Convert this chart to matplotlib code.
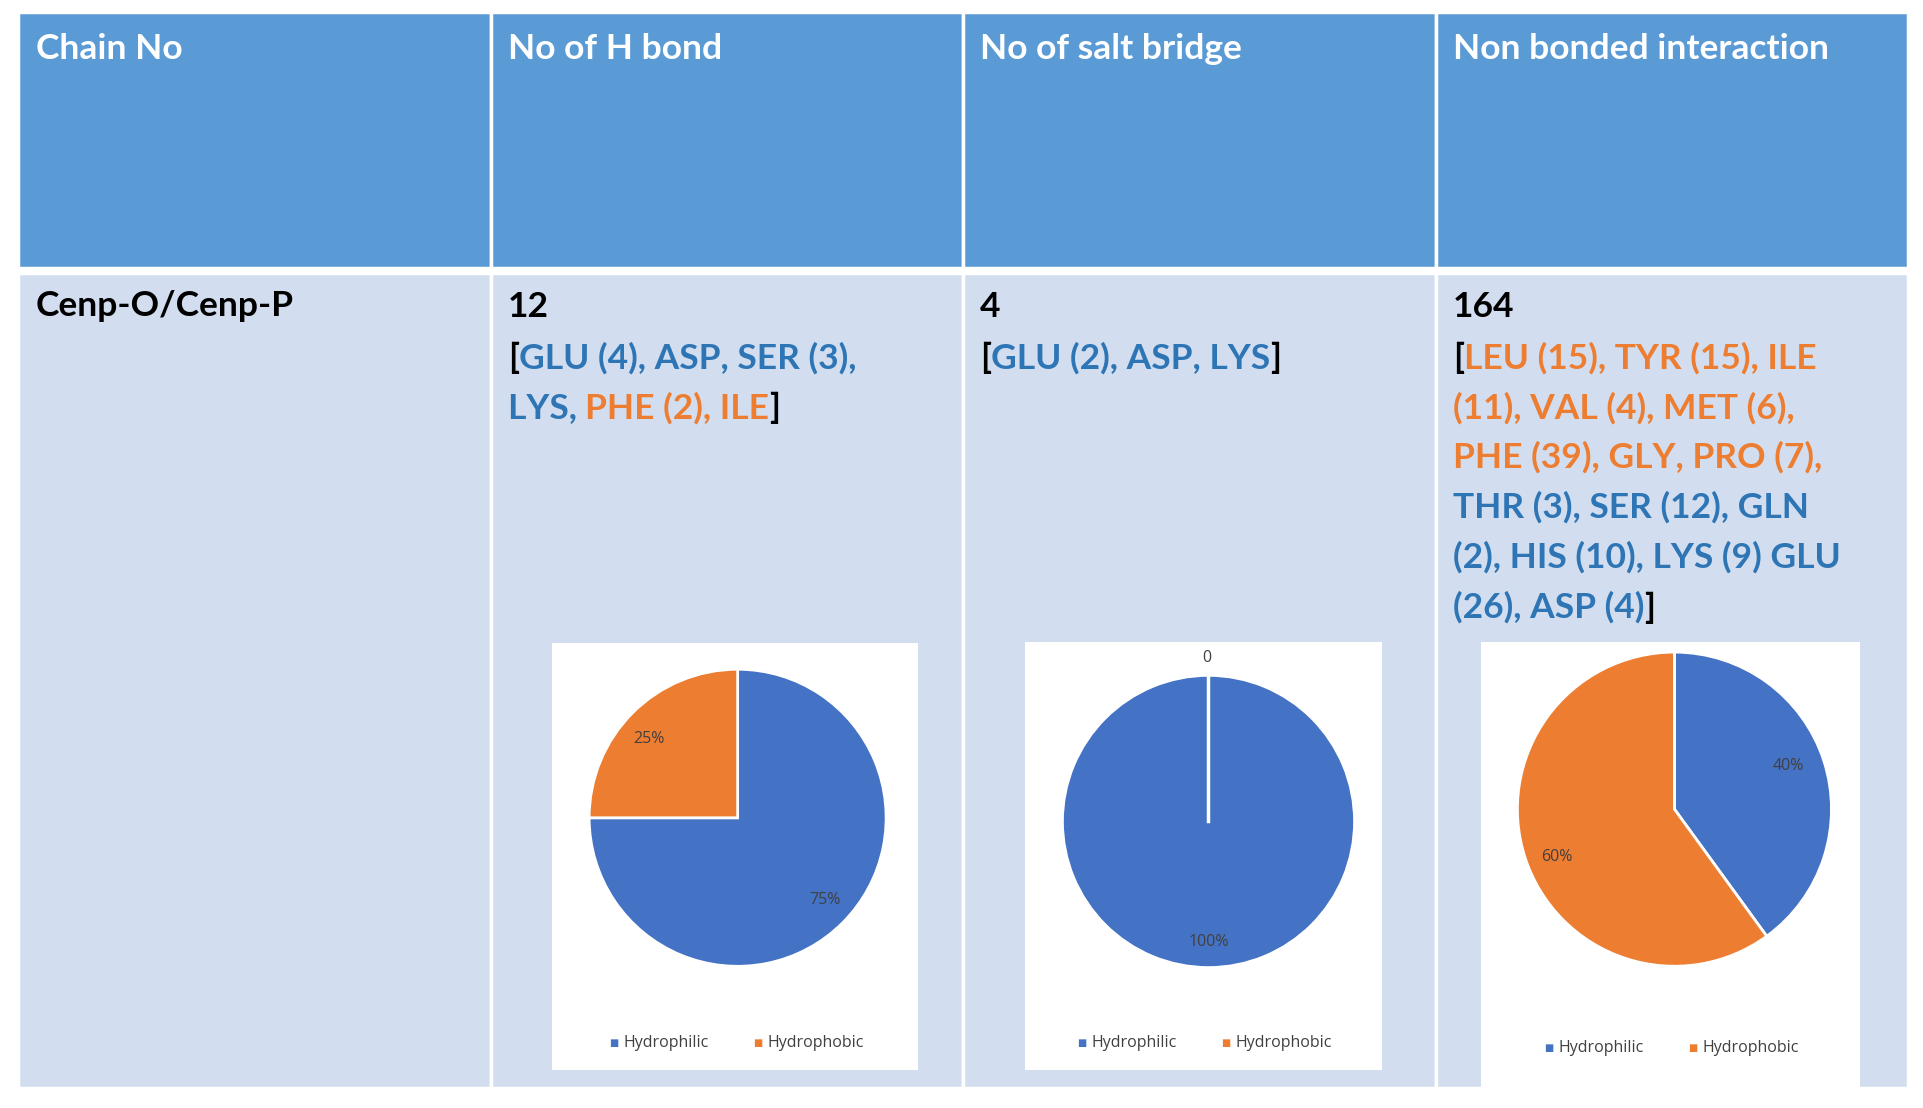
import matplotlib
matplotlib.use("Agg")
import matplotlib.pyplot as plt
from matplotlib.patches import Rectangle

headers = ["Chain No", "No of H bond", "No of salt bridge", "Non bonded interaction"]
chain = "Cenp-O/Cenp-P"
counts = ["12", "4", "164"]
BLUE_T = "#2E75B6"; ORANGE_T = "#ED7D31"; K = "black"
hb_lines = [[("[", K), ("GLU (4), ASP, SER (3),", BLUE_T)],
            [("LYS, ", BLUE_T), ("PHE (2), ILE", ORANGE_T), ("]", K)]]
sb_lines = [[("[", K), ("GLU (2), ASP, LYS", BLUE_T), ("]", K)]]
nb_lines = [[("[", K), ("LEU (15), TYR (15), ILE", ORANGE_T)],
            [("(11), VAL (4), MET (6),", ORANGE_T)],
            [("PHE (39), GLY, PRO (7),", ORANGE_T)],
            [("THR (3), SER (12), GLN", BLUE_T)],
            [("(2), HIS (10), LYS (9) GLU", BLUE_T)],
            [("(26), ASP (4)", BLUE_T), ("]", K)]]
pie_labels = ["Hydrophilic", "Hydrophobic"]
pie_values = [[75, 25], [100, 0], [40, 60]]
pie_texts = [["75%", "25%"], ["100%", "0"], ["40%", "60%"]]

W, H = 1565.0, 901.0
fig = plt.figure(figsize=(19.24, 11.08), dpi=100)
fig.patch.set_facecolor("white")
FONT = "Lato"
FS = 25.5

def fx(x): return x / W
def fy(y): return 1 - y / H

cols = [15, 399, 783, 1168, 1552]
for i in range(4):
    x0, x1 = cols[i], cols[i + 1]
    fig.add_artist(Rectangle((fx(x0), fy(218)), fx(x1) - fx(x0), fy(10) - fy(218),
                             transform=fig.transFigure, facecolor="#5B9BD5",
                             edgecolor="white", lw=2.5, zorder=-2))
    fig.add_artist(Rectangle((fx(x0), fy(885)), fx(x1) - fx(x0), fy(222) - fy(885),
                             transform=fig.transFigure, facecolor="#D2DEEF",
                             edgecolor="white", lw=2.5, zorder=-2))
    fig.text(fx(x0 + 14), fy(40), headers[i], color="white", fontsize=FS,
             fontweight="bold", family=FONT, va="center")

fig.text(fx(29), fy(249), chain, color="black", fontsize=FS, fontweight="bold",
         family=FONT, va="center")

renderer = fig.canvas.get_renderer()
def rich(x, y, parts):
    cx = fx(x)
    for s, c in parts:
        t = fig.text(cx, fy(y), s, color=c, fontsize=FS, fontweight="bold",
                     family=FONT, va="center")
        bb = t.get_window_extent(renderer=renderer)
        cx += bb.width / fig.bbox.width

for i, (cnt, lines) in enumerate(zip(counts, [hb_lines, sb_lines, nb_lines])):
    x0 = cols[i + 1] + 14
    fig.text(fx(x0), fy(250), cnt, color="black", fontsize=FS, fontweight="bold",
             family=FONT, va="center")
    for j, parts in enumerate(lines):
        rich(x0, 291 + 40.6 * j, parts)

boxes = [(449, 747, 523, 870), (834, 1124, 522, 870), (1205, 1513, 522, 885)]
centers = [(600, 665, 122), (983, 668, 120), (1362, 658, 129)]
PB, PO = "#4472C4", "#ED7D31"
for k, ((bx0, bx1, by0, by1), (cx, cy, r), vals, txt) in enumerate(
        zip(boxes, centers, pie_values, pie_texts)):
    fig.add_artist(Rectangle((fx(bx0), fy(by1)), fx(bx1) - fx(bx0), fy(by0) - fy(by1),
                             transform=fig.transFigure, facecolor="white",
                             edgecolor="none", zorder=-1))
    ax = fig.add_axes([fx(cx - r), fy(cy + r), fx(2 * r), fy(cy - r) - fy(cy + r)])
    ax.set_zorder(5)
    ax.patch.set_alpha(0)
    ax.pie(vals, colors=[PB, PO], startangle=90, counterclock=False,
           wedgeprops=dict(edgecolor="white", linewidth=2))
    if vals[1] == 0:
        ax.plot([0, 0], [0, 1], color="white", lw=2.5)
    ax.set_xlim(-1.01, 1.01); ax.set_ylim(-1.01, 1.01); ax.set_aspect("auto"); ax.axis("off")
    if k == 0:
        pos = [(671, 732), (528, 601)]
    elif k == 1:
        pos = [(983, 766), (982, 535)]
    else:
        pos = [(1455, 623), (1266, 697)]
    for (px, py), t in zip(pos, txt):
        fig.text(fx(px), fy(py), t, fontsize=11.5, color="#404040", ha="center",
                 va="center", family="Open Sans", zorder=10)
    ly = by1 - 22 if k < 2 else by1 - 33
    mid = (bx0 + bx1) / 2
    for lx, lab, col in [(mid - 47, pie_labels[0], PB), (mid + 70, pie_labels[1], PO)]:
        fig.text(fx(lx - 52), fy(ly), "■", fontsize=7, color=col, ha="center",
                 va="center")
        fig.text(fx(lx - 44), fy(ly), lab, fontsize=11.5, color="#404040",
                 ha="left", va="center", family="Open Sans")

fig.savefig("out.png", dpi=100)
